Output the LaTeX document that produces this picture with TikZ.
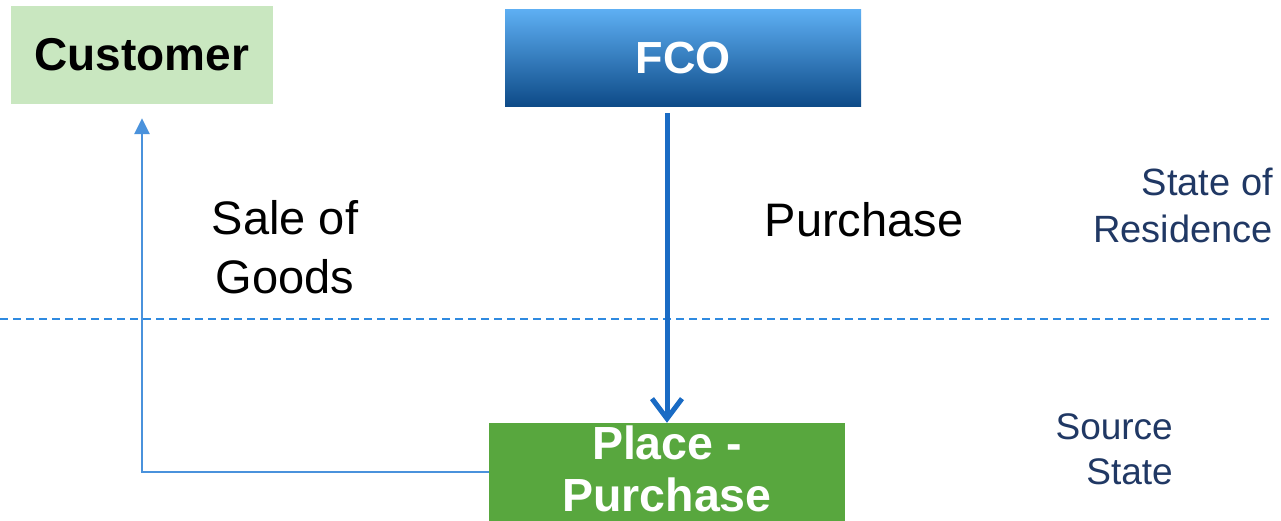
\documentclass[tikz,border=0pt]{standalone}
\usepackage{fontspec}
\setmainfont{Liberation Sans}
\usetikzlibrary{arrows.meta}
\definecolor{custfill}{HTML}{C9E7C0}
\definecolor{placefill}{HTML}{58A73E}
\definecolor{fcotop}{HTML}{5DAEF2}
\definecolor{fcomid}{HTML}{1570CE}
\definecolor{fcobot}{HTML}{0D4A87}
\definecolor{arrowdark}{HTML}{1A6BC4}
\definecolor{arrowlight}{HTML}{4A92DC}
\definecolor{dashblue}{HTML}{2F8AE0}
\definecolor{navy}{HTML}{203864}
\tikzset{
  boxbase/.style={rectangle, inner sep=0pt, align=center},
  custbox/.style={boxbase, fill=custfill, text=black, font=\fontsize{46}{48}\selectfont\bfseries},
  fcobox/.style={boxbase, top color=fcotop, middle color=fcomid, bottom color=fcobot, text=white, font=\fontsize{45}{48}\selectfont\bfseries},
  placebox/.style={boxbase, fill=placefill},
  placetext/.style={inner sep=0pt, align=center, text=white, font=\fontsize{46.5}{52}\selectfont\bfseries},
  bigtext/.style={inner sep=0pt, align=center, text=black, font=\fontsize{47}{59}\selectfont},
  statetext/.style={inner sep=0pt, text=navy, align=right, anchor=east},
  flowmain/.style={draw=arrowdark, line width=5pt, -{Straight Barb[length=20pt,width=30pt]}},
  flowback/.style={draw=arrowlight, line width=2.5pt, -{Triangle[length=16pt,width=15pt]}, color=arrowlight},
  border/.style={draw=dashblue, line width=1.5pt, dash pattern=on 8pt off 5pt}
}
\begin{document}
\begin{tikzpicture}[x=1pt, y=-1pt]
\useasboundingbox (0,0) rectangle (1281,521);
\fill[white] (0,0) rectangle (1281,521);

\node[custbox, minimum width=262pt, minimum height=98pt] (customer) at (142,55) {Customer};
\node[fcobox, minimum width=356pt, minimum height=97pt] (fco) at (683,58.5) {FCO};
\node[placebox, minimum width=356pt, minimum height=98pt] (place) at (667,472) {};
\node[placetext] (placelabel) at ([yshift=3pt]place.center) {Place -\\Purchase};

\node[bigtext] (sale) at (285,247) {Sale of\\Goods};
\node[bigtext] (purchase) at (864,220) {Purchase};
\node[statetext, font=\fontsize{38}{47}\selectfont] (residence) at (1273,205) {State of\\Residence};
\node[statetext, font=\fontsize{37}{45}\selectfont] (source) at (1173,449) {Source\\State};

\coordinate (dl) at (0,319);
\coordinate (dr) at (1270,319);
\draw[border] (dl) -- (dr);

\draw[flowmain, shorten <=6pt] (place.north |- fco.south) -- (place.north);
\draw[flowback, shorten >=14pt] (place.west) -| (customer.south);
\end{tikzpicture}
\end{document}
